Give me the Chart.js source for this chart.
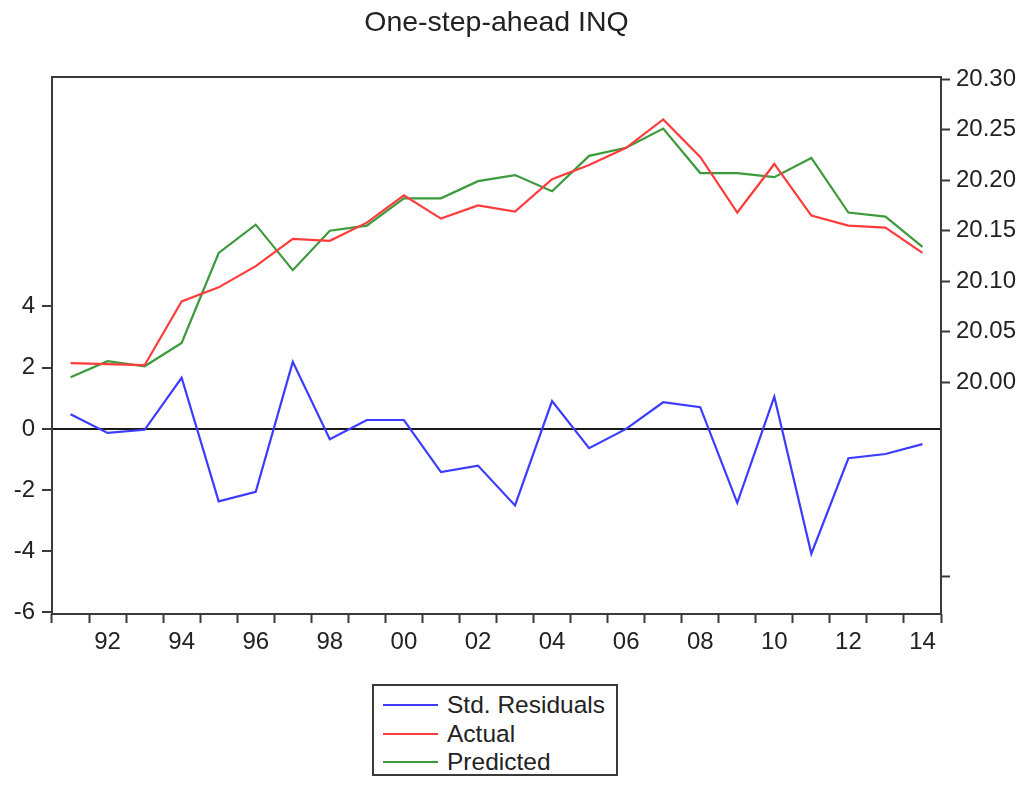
<!DOCTYPE html>
<html>
<head>
<meta charset="utf-8">
<title>One-step-ahead INQ</title>
<script src="https://cdn.jsdelivr.net/npm/chart.js@4.4.1/dist/chart.umd.min.js"></script>
<style>
  html, body { margin: 0; padding: 0; background: #fff; }
  #wrap { position: relative; width: 1029px; height: 786px; }
  #legend {
    position: absolute; left: 372px; top: 684px; width: 242px; height: 88px;
    border: 2px solid #3a3a3a; background: #fff;
    font-family: "Liberation Sans", Arial, sans-serif; font-size: 24.5px; color: #222;
  }
  #legend .item { position: absolute; left: 0; height: 28px; width: 100%; }
  #legend .swatch { position: absolute; left: 9px; top: 13px; width: 55px; height: 2px; }
  #legend .lab { position: absolute; left: 73px; top: 0; line-height: 28px; white-space: nowrap; }
</style>
</head>
<body>
<div id="wrap">
  <canvas id="chart" width="1029" height="786"></canvas>
  <div id="legend"></div>
</div>
<script>
// Annual observations 1991-2014 (two-digit year labels)
const years = ['91','92','93','94','95','96','97','98','99','00','01','02',
               '03','04','05','06','07','08','09','10','11','12','13','14'];

// Standardised one-step-ahead residuals (left axis)
const stdResiduals = [0.48, -0.13, -0.03, 1.67, -2.37, -2.06, 2.19, -0.34, 0.29, 0.29, -1.41, -1.20,
                      -2.50, 0.91, -0.63, 0.00, 0.87, 0.71, -2.42, 1.05, -4.08, -0.96, -0.82, -0.50];

// Actual and one-step-ahead predicted INQ (right axis)
const actual = [20.019, 20.018, 20.017, 20.080, 20.094, 20.115, 20.142, 20.140, 20.158, 20.185, 20.162, 20.175,
                20.169, 20.201, 20.215, 20.232, 20.260, 20.223, 20.168, 20.216, 20.165, 20.155, 20.153, 20.128];
const predicted = [20.005, 20.021, 20.016, 20.039, 20.128, 20.156, 20.111, 20.150, 20.155, 20.182, 20.182, 20.199,
                   20.205, 20.189, 20.224, 20.232, 20.251, 20.207, 20.207, 20.203, 20.222, 20.168, 20.164, 20.134];

// Axis tick values
const leftTicks = [-6, -4, -2, 0, 2, 4];
const rightTicks = [20.00, 20.05, 20.10, 20.15, 20.20, 20.25, 20.30];
const rightUnlabeledTicks = [19.808];

const FONT = '"Liberation Sans", Arial, sans-serif';
const TEXT = '#222';
const AXIS = '#3a3a3a';

// Box around the plotting area
const framePlugin = {
  id: 'frame',
  beforeDatasetsDraw(chart) {
    const { ctx, chartArea: a } = chart;
    ctx.save();
    ctx.strokeStyle = AXIS;
    ctx.lineWidth = 2;
    ctx.strokeRect(a.left, a.top, a.right - a.left, a.bottom - a.top);
    ctx.restore();
  }
};

const chart = new Chart(document.getElementById('chart'), {
  type: 'line',
  data: {
    labels: years,
    datasets: [
      { label: 'Std. Residuals', data: stdResiduals, yAxisID: 'yL',
        borderColor: '#3c3cff', borderWidth: 2.2, pointRadius: 0, tension: 0, fill: false },
      { label: 'Actual', data: actual, yAxisID: 'yR',
        borderColor: '#ff3c3c', borderWidth: 2.2, pointRadius: 0, tension: 0, fill: false },
      { label: 'Predicted', data: predicted, yAxisID: 'yR',
        borderColor: '#3c9a3c', borderWidth: 2.2, pointRadius: 0, tension: 0, fill: false }
    ]
  },
  options: {
    responsive: false,
    animation: false,
    events: [],
    layout: { padding: 0 },
    plugins: {
      legend: { display: false },
      tooltip: { enabled: false },
      title: {
        display: true,
        fullSize: false,
        text: 'One-step-ahead INQ',
        color: TEXT,
        font: { family: FONT, size: 28.5, weight: 'normal' },
        padding: { top: 6, bottom: 36.8 }
      }
    },
    scales: {
      x: {
        type: 'category',
        offset: true,
        border: { display: false },
        grid: { offset: true, drawOnChartArea: false, drawTicks: true, tickLength: 9,
                tickColor: AXIS, tickWidth: 2 },
        ticks: {
          autoSkip: false, maxRotation: 0, minRotation: 0, padding: 5,
          color: TEXT, font: { family: FONT, size: 24 },
          callback: (v, i) => (parseInt(years[i], 10) % 2 === 0 ? years[i] : '')
        },
        afterFit: s => { s.height = 172; }
      },
      yL: {
        type: 'linear',
        position: 'left',
        min: -6.05,
        max: 11.5,
        border: { display: false },
        afterBuildTicks: s => { s.ticks = leftTicks.map(v => ({ value: v })); },
        grid: {
          drawOnChartArea: true,
          color: ctx => (ctx.tick && ctx.tick.value === 0 ? '#1a1a1a' : 'rgba(0,0,0,0)'),
          lineWidth: 2,
          tickLength: 10, tickColor: AXIS, tickWidth: 2
        },
        ticks: { padding: 7, color: TEXT, font: { family: FONT, size: 24 },
                 callback: v => String(v) },
        afterFit: s => { s.width = 52; }
      },
      yR: {
        type: 'linear',
        position: 'right',
        min: 19.771,
        max: 20.302,
        border: { display: false },
        afterBuildTicks: s => {
          s.ticks = rightUnlabeledTicks.concat(rightTicks).map(v => ({ value: v }));
        },
        grid: { drawOnChartArea: false, tickLength: 9, tickColor: AXIS, tickWidth: 2 },
        ticks: { padding: 6, color: TEXT, font: { family: FONT, size: 24 },
                 callback: v => (rightTicks.includes(v) ? v.toFixed(2) : '') },
        afterFit: s => { s.width = 88; }
      }
    }
  },
  plugins: [framePlugin]
});

// Boxed legend listing the series
const legendEl = document.getElementById('legend');
const rowTops = [5, 33.5, 62];
chart.data.datasets.forEach((ds, i) => {
  const item = document.createElement('div');
  item.className = 'item';
  item.style.top = rowTops[i] + 'px';
  const sw = document.createElement('span');
  sw.className = 'swatch';
  sw.style.background = ds.borderColor;
  const lab = document.createElement('span');
  lab.className = 'lab';
  lab.textContent = ds.label;
  item.appendChild(sw);
  item.appendChild(lab);
  legendEl.appendChild(item);
});
</script>
</body>
</html>
